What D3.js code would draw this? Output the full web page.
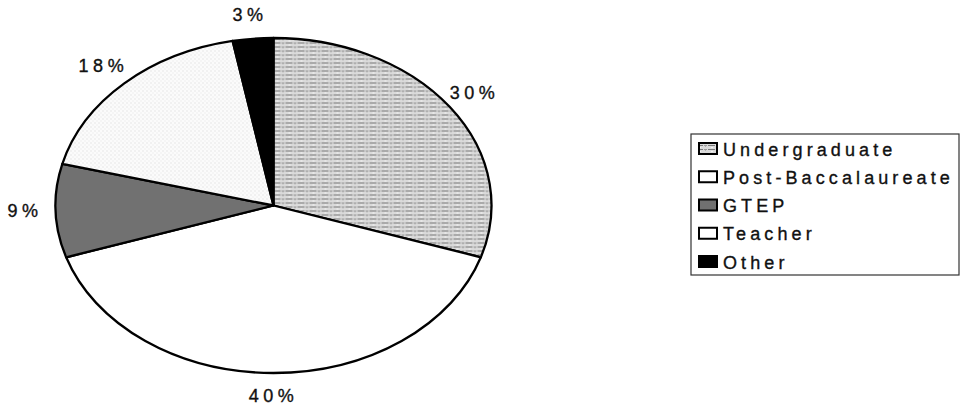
<!DOCTYPE html>
<html><head><meta charset="utf-8">
<script src="https://cdn.jsdelivr.net/npm/d3@7"></script>
<style>
html,body{margin:0;padding:0;background:#fff;}
svg{display:block;}
text{font-family:"Liberation Sans",Arial,sans-serif;fill:#111;stroke:#111;stroke-width:0.35px;}
</style></head>
<body>
<svg id="chart" width="965" height="406"></svg>
<script>
const categories = ["Undergraduate","Post-Baccalaureate","GTEP","Teacher","Other"];
const values = [30,40,9,18,3];
const labels = ["30%","40%","9%","18%","3%"];
const fills = ["url(#pUnder)","#ffffff","url(#pGtep)","url(#pTeacher)","#000000"];
const legendFills = ["url(#pUnderL)","#ffffff","url(#pGtepL)","#ffffff","#000000"];

const svg = d3.select("#chart");
const cx = 273.5, cy = 205.5, rx = 218, ry = 167.5;
const k = ry / rx;

const defs = svg.append("defs");
function makeUnder(id, t){
  const p = defs.append("pattern").attr("id", id).attr("patternUnits","userSpaceOnUse")
    .attr("width",12).attr("height",4);
  if (t) p.attr("patternTransform", t);
  p.append("rect").attr("width",12).attr("height",4).attr("fill","#dadada");
  p.append("rect").attr("x",0).attr("y",1).attr("width",7).attr("height",1).attr("fill","#7a7a7a");
  p.append("rect").attr("x",8).attr("y",1).attr("width",3).attr("height",1).attr("fill","#999");
  p.append("rect").attr("x",3).attr("y",3).attr("width",2).attr("height",1).attr("fill","#f4f4f4");
  p.append("rect").attr("x",9).attr("y",2).attr("width",1).attr("height",1).attr("fill","#b0b0b0");
}
function makeGtep(id, t){
  const p = defs.append("pattern").attr("id", id).attr("patternUnits","userSpaceOnUse")
    .attr("width",2).attr("height",2);
  if (t) p.attr("patternTransform", t);
  p.append("rect").attr("width",2).attr("height",2).attr("fill","#b4b4b4");
  p.append("rect").attr("x",0).attr("y",0).attr("width",1).attr("height",1).attr("fill","#2e2e2e");
  p.append("rect").attr("x",1).attr("y",1).attr("width",1).attr("height",1).attr("fill","#2e2e2e");
}
function makeTeacher(id, t){
  const p = defs.append("pattern").attr("id", id).attr("patternUnits","userSpaceOnUse")
    .attr("width",4).attr("height",4);
  if (t) p.attr("patternTransform", t);
  p.append("rect").attr("width",4).attr("height",4).attr("fill","#fbfbfb");
  p.append("rect").attr("x",1).attr("y",1).attr("width",1).attr("height",1).attr("fill","#d2d2d2");
  p.append("rect").attr("x",3).attr("y",3).attr("width",1).attr("height",1).attr("fill","#e2e2e2");
}
const inv = `scale(1,${1/k})`;
makeUnder("pUnder", inv); makeGtep("pGtep", inv); makeTeacher("pTeacher", inv);
makeUnder("pUnderL"); makeGtep("pGtepL");

const pie = d3.pie().sort(null).value(d => d);
const arcs = pie(values);
const arc = d3.arc().innerRadius(0).outerRadius(rx);

const g = svg.append("g").attr("transform", `translate(${cx},${cy}) scale(1,${k})`);
g.selectAll("path.slice").data(arcs).enter().append("path")
  .attr("class","slice")
  .attr("d", arc)
  .attr("fill", (d,i) => fills[i])
  .attr("stroke", "#000")
  .attr("stroke-width", 2.3)
  .attr("stroke-linejoin","round")
  .attr("vector-effect","non-scaling-stroke");

// labels
const labelR = 1.14 * rx;
svg.append("g").selectAll("text").data(arcs).enter().append("text")
  .attr("x", d => cx + labelR * Math.sin((d.startAngle + d.endAngle)/2))
  .attr("y", d => cy - labelR * k * Math.cos((d.startAngle + d.endAngle)/2))
  .attr("text-anchor","middle")
  .attr("dominant-baseline","central")
  .style("font-size","18px")
  .style("letter-spacing","4.5px")
  .text((d,i) => labels[i]);

// legend
const lg = svg.append("g");
lg.append("rect").attr("x",691).attr("y",134).attr("width",268).attr("height",141)
  .attr("fill","#fff").attr("stroke","#333").attr("stroke-width",1.2);
const rowY = d3.scalePoint().domain(categories).range([0, 113]);
const rows = lg.selectAll("g.row").data(categories).enter().append("g")
  .attr("class","row")
  .attr("transform", d => `translate(0,${rowY(d)})`);
rows.append("rect").attr("x",699).attr("y",143).attr("width",18).attr("height",11)
  .attr("fill",(d,i) => legendFills[i]).attr("stroke","#000").attr("stroke-width",2);
rows.append("text").attr("x",723).attr("y",155.5)
  .style("font-size","18px").style("letter-spacing","4.1px")
  .text(d => d);
</script>
</body></html>
